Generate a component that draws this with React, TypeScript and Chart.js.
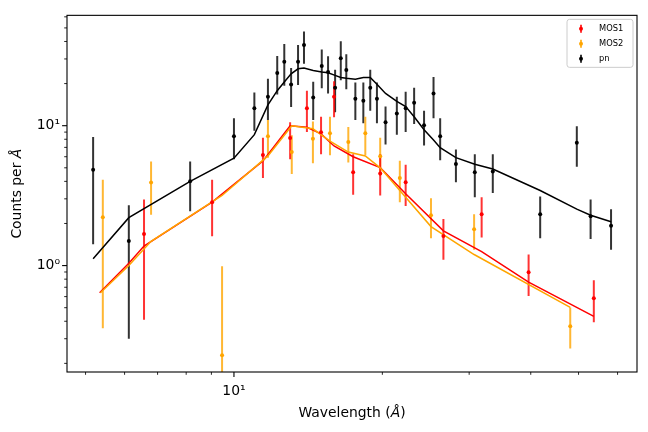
import React, { useEffect, useRef } from 'react';
import { Chart, registerables } from 'chart.js';

Chart.register(...registerables);

const FONT = "'DejaVu Sans', 'Liberation Sans', sans-serif";

// ---- MOS1 (red) ----
const mos1Wave = [6.57, 9.03, 11.45, 13.0, 14.06, 15.02, 15.96, 17.45, 19.8, 22.3, 26.6, 31.8, 39.6, 53.7];
const mos1Counts = [1.68, 2.84, 6.18, 8.15, 13.3, 8.98, 16.1, 4.64, 4.56, 3.94, 1.63, 2.33, 0.897, 0.585];
const mos1Hi = [2.97, 4.11, 8.19, 10.6, 17.8, 11.6, 20.8, 6.24, 6.24, 5.25, 2.15, 3.08, 1.2, 0.787];
const mos1Lo = [0.41, 1.62, 4.23, 5.76, 9.03, 6.24, 11.5, 3.21, 3.17, 2.67, 1.1, 1.59, 0.607, 0.394];

// ---- MOS2 (orange) ----
const mos2Wave = [5.42, 6.79, 9.46, 11.72, 13.1, 14.46, 15.66, 17.06, 18.47, 19.8, 21.7, 25.1, 30.7, 48.1];
const mos2Counts = [2.22, 3.92, 0.229, 8.41, 6.48, 8.05, 8.84, 7.64, 8.84, 6.04, 4.23, 2.29, 1.82, 0.368];
const mos2Hi = [4.11, 5.54, 0.99, 11.0, 8.55, 10.7, 11.6, 9.79, 11.6, 8.19, 5.61, 3.03, 2.33, 0.502];
const mos2Lo = [0.356, 2.31, 0.05, 5.9, 4.51, 5.39, 6.14, 5.46, 6.14, 4.4, 2.84, 1.57, 1.3, 0.255];

// ---- pn (black) ----
const pnWave = [5.18, 6.12, 8.15, 10.0, 11.0, 11.72, 12.24, 12.65, 13.06, 13.49, 13.87, 14.48, 15.07, 15.52, 16.04, 16.47, 16.9, 17.63, 18.3, 18.9, 19.5, 20.3, 21.4, 22.3, 23.2, 24.3, 25.4, 26.2, 28.2, 30.8, 33.5, 41.8, 49.6, 52.9, 58.2];
const pnCounts = [4.84, 1.5, 4.0, 8.41, 13.3, 16.1, 23.8, 28.6, 19.7, 28.6, 37.8, 15.9, 26.7, 24.2, 18.7, 30.4, 25.0, 15.6, 15.1, 18.7, 15.6, 10.6, 12.2, 13.3, 14.6, 10.07, 17.0, 8.41, 5.33, 4.64, 4.71, 2.33, 7.55, 2.25, 1.93];
const pnHi = [8.3, 2.7, 5.54, 11.3, 17.3, 21.7, 31.5, 38.4, 25.8, 37.8, 47.2, 20.6, 35.0, 31.4, 25.1, 40.1, 32.4, 20.4, 20.4, 25.1, 20.4, 13.7, 16.1, 17.5, 18.7, 12.8, 22.3, 11.3, 6.76, 6.24, 6.24, 3.12, 9.9, 2.97, 2.53];
const pnLo = [1.42, 0.3, 2.45, 5.76, 9.2, 11.0, 16.7, 19.3, 13.6, 19.5, 27.7, 11.0, 18.5, 17.0, 12.5, 21.1, 18.2, 11.0, 10.4, 12.8, 10.4, 7.35, 8.63, 9.03, 10.3, 7.23, 11.3, 5.66, 3.94, 3.08, 3.3, 1.57, 5.08, 1.55, 1.3];

// ---- model curves ----
const mos1ModelWave = [5.34, 6.12, 6.57, 9.03, 11.45, 13.0, 14.06, 15.02, 15.96, 17.45, 19.8, 22.3, 26.6, 31.8, 39.6, 53.7];
const mos1Model = [0.64, 1.04, 1.38, 2.84, 5.6, 10.0, 9.75, 8.74, 7.16, 6.0, 5.02, 3.26, 1.77, 1.26, 0.762, 0.434];
const mos2ModelWave = [5.36, 6.12, 6.79, 9.46, 11.72, 13.1, 14.46, 15.66, 17.06, 18.47, 19.8, 21.7, 25.1, 30.7, 48.1];
const mos2Model = [0.64, 1.0, 1.49, 3.17, 6.08, 10.0, 9.5, 7.76, 6.48, 6.08, 5.0, 3.44, 1.9, 1.2, 0.502];
const pnModelWave = pnWave;
const pnModel = [1.12, 2.2, 4.0, 5.85, 8.63, 14.1, 17.8, 20.5, 23.5, 25.5, 25.8, 24.8, 24.2, 23.9, 22.9, 22.1, 21.8, 21.5, 22.1, 22.1, 19.8, 17.0, 14.9, 13.7, 11.6, 9.37, 7.9, 6.96, 5.91, 5.3, 4.9, 3.44, 2.53, 2.29, 2.06];

// ---- axes ----
const xTickValues = [5, 6, 7, 8, 9, 10, 20, 30, 40, 50, 60];
const yTickValues = [0.2, 0.3, 0.4, 0.5, 0.6, 0.7, 0.8, 0.9, 1, 2, 3, 4, 5, 6, 7, 8, 9, 10, 20, 30, 40, 50, 60];
const xLimits = [4.585, 65.7];
const yLimits = [0.1735, 61.5];
const xLabelParts = ['Wavelength (', 'Å', ')'];
const yLabelParts = ['Counts per ', 'Å'];
const seriesNames = ['MOS1', 'MOS2', 'pn'];
const seriesColors = ['#ff0000', '#ffa500', '#000000'];
const seriesBarColors = ['rgba(255,0,0,0.8)', 'rgba(255,165,0,0.8)', 'rgba(0,0,0,0.8)'];

const pts = (xs: number[], ys: number[]) => xs.map((x, i) => ({ x, y: ys[i] }));
const isMajor = (v: number) => Math.abs(Math.log10(v) - Math.round(Math.log10(v))) < 1e-9;
const supLabel = (v: number) => {
  const e = Math.round(Math.log10(v));
  const sup: Record<string, string> = { '0': '⁰', '1': '¹', '2': '²', '-': '⁻' };
  return '10' + String(e).split('').map((c) => sup[c] || c).join('');
};

const decorPlugin = {
  id: 'decor',
  beforeDatasetsDraw(chart: any) {
    const { ctx, chartArea, scales } = chart;
    const x = scales.x, y = scales.y;
    ctx.save();
    ctx.beginPath();
    ctx.rect(chartArea.left, chartArea.top, chartArea.right - chartArea.left, chartArea.bottom - chartArea.top);
    ctx.clip();
    chart.data.datasets.forEach((ds: any) => {
      if (!ds.errLo) return;
      ctx.strokeStyle = ds.errColor;
      ctx.lineWidth = 2;
      ds.data.forEach((p: any, j: number) => {
        const px = x.getPixelForValue(p.x);
        ctx.beginPath();
        ctx.moveTo(px, y.getPixelForValue(ds.errLo[j]));
        ctx.lineTo(px, y.getPixelForValue(ds.errHi[j]));
        ctx.stroke();
      });
    });
    ctx.restore();
  },
  afterDraw(chart: any) {
    const { ctx, chartArea, scales } = chart;
    const x = scales.x, y = scales.y;
    const { left, right, top, bottom } = chartArea;
    ctx.save();
    // frame
    ctx.strokeStyle = '#000';
    ctx.lineWidth = 1.1;
    ctx.strokeRect(left, top, right - left, bottom - top);
    // ticks
    xTickValues.forEach((v) => {
      const px = x.getPixelForValue(v);
      const maj = isMajor(v);
      ctx.lineWidth = maj ? 1.1 : 0.85;
      ctx.beginPath();
      ctx.moveTo(px, bottom);
      ctx.lineTo(px, bottom + (maj ? 4.9 : 2.8));
      ctx.stroke();
    });
    yTickValues.forEach((v) => {
      const py = y.getPixelForValue(v);
      const maj = isMajor(v);
      ctx.lineWidth = maj ? 1.1 : 0.85;
      ctx.beginPath();
      ctx.moveTo(left, py);
      ctx.lineTo(left - (maj ? 4.9 : 2.8), py);
      ctx.stroke();
    });
    // axis titles
    const fs = 13.9;
    const fontN = `${fs}px ${FONT}`;
    const fontI = `italic ${fs}px ${FONT}`;
    ctx.fillStyle = '#000';
    ctx.textBaseline = 'middle';
    ctx.textAlign = 'left';
    const drawParts = (parts: string[], italicIdx: number, cx: number, cy: number, rot: number) => {
      const widths = parts.map((p, i) => {
        ctx.font = i === italicIdx ? fontI : fontN;
        return ctx.measureText(p).width;
      });
      const total = widths.reduce((a, b) => a + b, 0);
      ctx.save();
      ctx.translate(cx, cy);
      ctx.rotate(rot);
      let pos = -total / 2;
      parts.forEach((p, i) => {
        ctx.font = i === italicIdx ? fontI : fontN;
        ctx.fillText(p, pos, 0);
        pos += widths[i];
      });
      ctx.restore();
    };
    drawParts(xLabelParts, 1, (left + right) / 2, 413, 0);
    drawParts(yLabelParts, 1, 17.5, (top + bottom) / 2, -Math.PI / 2);

    // legend
    const lx = right - 70, ly = top + 4, lw = 66, lh = 48;
    ctx.beginPath();
    const r = 2.5;
    ctx.moveTo(lx + r, ly);
    ctx.lineTo(lx + lw - r, ly);
    ctx.arcTo(lx + lw, ly, lx + lw, ly + r, r);
    ctx.lineTo(lx + lw, ly + lh - r);
    ctx.arcTo(lx + lw, ly + lh, lx + lw - r, ly + lh, r);
    ctx.lineTo(lx + r, ly + lh);
    ctx.arcTo(lx, ly + lh, lx, ly + lh - r, r);
    ctx.lineTo(lx, ly + r);
    ctx.arcTo(lx, ly, lx + r, ly, r);
    ctx.closePath();
    ctx.fillStyle = 'rgba(255,255,255,0.8)';
    ctx.fill();
    ctx.strokeStyle = '#cccccc';
    ctx.lineWidth = 1;
    ctx.stroke();
    ctx.font = `8.3px ${FONT}`;
    seriesNames.forEach((name, i) => {
      const cy = ly + 9.5 + i * 15;
      const mx = lx + 14;
      ctx.strokeStyle = seriesBarColors[i];
      ctx.lineWidth = 2;
      ctx.beginPath();
      ctx.moveTo(mx, cy - 4);
      ctx.lineTo(mx, cy + 4);
      ctx.stroke();
      ctx.fillStyle = seriesColors[i];
      ctx.beginPath();
      ctx.arc(mx, cy, 2, 0, Math.PI * 2);
      ctx.fill();
      ctx.fillStyle = '#000';
      ctx.textBaseline = 'middle';
      ctx.fillText(name, lx + 32, cy);
    });
    ctx.restore();
  },
};

export default function App() {
  const canvasRef = useRef<HTMLCanvasElement | null>(null);

  useEffect(() => {
    if (!canvasRef.current) return;
    const pointDs = (i: number, xs: number[], ys: number[], lo: number[], hi: number[]) => ({
      type: 'scatter' as const,
      label: seriesNames[i],
      data: pts(xs, ys),
      errLo: lo,
      errHi: hi,
      errColor: seriesBarColors[i],
      showLine: false,
      pointRadius: 2,
      pointBorderWidth: 0,
      pointBackgroundColor: seriesColors[i],
      pointBorderColor: seriesColors[i],
      order: 0,
    });
    const lineDs = (i: number, xs: number[], ys: number[], order: number) => ({
      type: 'scatter' as const,
      label: seriesNames[i] + ' model',
      data: pts(xs, ys),
      showLine: true,
      borderColor: seriesColors[i],
      borderWidth: 1.5,
      pointRadius: 0,
      fill: false,
      tension: 0,
      order,
    });
    const chart = new Chart(canvasRef.current, {
      type: 'scatter',
      data: {
        datasets: [
          pointDs(2, pnWave, pnCounts, pnLo, pnHi),
          pointDs(1, mos2Wave, mos2Counts, mos2Lo, mos2Hi),
          pointDs(0, mos1Wave, mos1Counts, mos1Lo, mos1Hi),
          lineDs(2, pnModelWave, pnModel, 1),
          lineDs(1, mos2ModelWave, mos2Model, 2),
          lineDs(0, mos1ModelWave, mos1Model, 3),
        ] as any,
      },
      options: {
        responsive: false,
        animation: false,
        devicePixelRatio: 1,
        layout: { padding: { left: 0, top: 11, right: 11, bottom: 0 } },
        plugins: { legend: { display: false }, tooltip: { enabled: false } },
        scales: {
          x: {
            type: 'logarithmic',
            min: xLimits[0],
            max: xLimits[1],
            grid: { display: false, drawTicks: false },
            border: { display: false },
            afterBuildTicks: (scale: any) => {
              scale.ticks = xTickValues.map((v) => ({ value: v }));
            },
            afterFit: (scale: any) => {
              scale.height = 60;
            },
            ticks: {
              autoSkip: false,
              maxRotation: 0,
              minRotation: 0,
              padding: 11,
              color: '#000',
              font: { family: FONT, size: 13.9 },
              callback: (v: any) => (isMajor(Number(v)) ? supLabel(Number(v)) : ''),
            },
          },
          y: {
            type: 'logarithmic',
            min: yLimits[0],
            max: yLimits[1],
            grid: { display: false, drawTicks: false },
            border: { display: false },
            afterBuildTicks: (scale: any) => {
              scale.ticks = yTickValues.map((v) => ({ value: v }));
            },
            afterFit: (scale: any) => {
              scale.width = 67;
            },
            ticks: {
              autoSkip: false,
              padding: 7,
              color: '#000',
              font: { family: FONT, size: 13.9 },
              callback: (v: any) => (isMajor(Number(v)) ? supLabel(Number(v)) : ''),
            },
          },
        },
      } as any,
      plugins: [decorPlugin],
    });
    return () => chart.destroy();
  }, []);

  return (
    <div style={{ position: 'absolute', left: 0, top: 0, width: 648, height: 432, background: '#fff' }}>
      <canvas ref={canvasRef} width={648} height={432} style={{ display: 'block' }} />
    </div>
  );
}
